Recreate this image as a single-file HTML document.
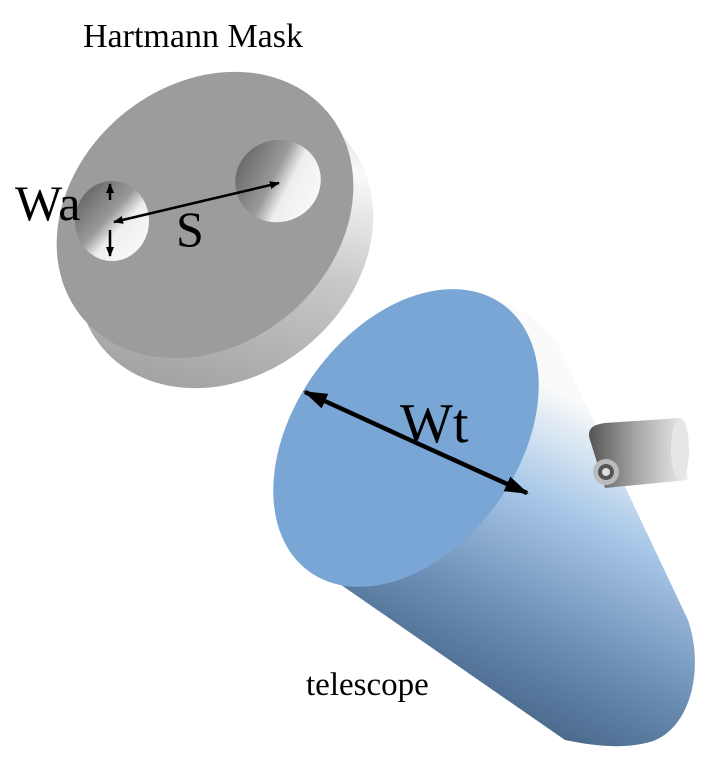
<!DOCTYPE html>
<html><head><meta charset="utf-8"><style>
html,body{margin:0;padding:0;background:#fff;}
svg{display:block;}
text{font-family:"Liberation Serif",serif;fill:#000;}
</style></head><body>
<svg width="704" height="766" viewBox="0 0 704 766">
<defs>
<linearGradient id="side" gradientUnits="userSpaceOnUse" x1="120" y1="380" x2="380" y2="200">
<stop offset="0" stop-color="#a0a0a0"/><stop offset="0.5" stop-color="#c8c8c8"/><stop offset="0.85" stop-color="#fafafa"/><stop offset="1" stop-color="#dcdcdc"/>
</linearGradient>
<linearGradient id="hole" x1="0" y1="0" x2="1" y2="1">
<stop offset="0" stop-color="#555"/><stop offset="0.45" stop-color="#999"/><stop offset="0.6" stop-color="#eee"/><stop offset="1" stop-color="#fff"/>
</linearGradient>
<linearGradient id="body" gradientUnits="userSpaceOnUse" x1="620" y1="420" x2="470" y2="730">
<stop offset="0" stop-color="#fafafa"/><stop offset="0.3" stop-color="#a8c8e8"/><stop offset="0.65" stop-color="#6d8fb5"/><stop offset="1" stop-color="#3e5d80"/>
</linearGradient>
<linearGradient id="eye" x1="0" y1="0" x2="1" y2="0">
<stop offset="0" stop-color="#555"/><stop offset="0.5" stop-color="#aaa"/><stop offset="1" stop-color="#eee"/>
</linearGradient>
<marker id="ah" markerWidth="10" markerHeight="8" refX="9" refY="4" orient="auto" markerUnits="userSpaceOnUse">
<path d="M0,0 L10,4 L0,8 Z" fill="#000"/></marker>
<marker id="ah2" markerWidth="24" markerHeight="16" refX="22" refY="8" orient="auto" markerUnits="userSpaceOnUse">
<path d="M0,0 L24,8 L0,16 Z" fill="#000"/></marker>
</defs>

<text x="83" y="47" font-size="34">Hartmann Mask</text>

<ellipse cx="225" cy="245" rx="160" ry="130" transform="rotate(-40 225 245)" fill="url(#side)"/>
<ellipse cx="205" cy="215" rx="160" ry="130" transform="rotate(-40 205 215)" fill="#9c9c9c"/>
<ellipse cx="112" cy="221" rx="37" ry="40" fill="url(#hole)"/>
<ellipse cx="278" cy="181" rx="43" ry="41" transform="rotate(-20 278 181)" fill="url(#hole)"/>

<text x="15" y="220" font-size="50">Wa</text>
<line x1="110" y1="200" x2="110" y2="184" stroke="#000" stroke-width="2.5" marker-end="url(#ah)"/>
<line x1="110" y1="230" x2="110" y2="256" stroke="#000" stroke-width="2.5" marker-end="url(#ah)"/>
<line x1="190" y1="204" x2="114" y2="222" stroke="#000" stroke-width="2.5" marker-end="url(#ah)"/>
<line x1="190" y1="204" x2="279" y2="183" stroke="#000" stroke-width="2.5" marker-end="url(#ah)"/>
<text x="176" y="246" font-size="50">S</text>

<path d="M308,562 L460,295 C505,295 540,318 558,345 L688,620 C705,670 690,730 650,742 C620,750 590,745 565,740 L308,562 Z" fill="url(#body)"/>
<ellipse cx="406" cy="438" rx="165" ry="112" transform="rotate(-54 406 438)" fill="#7aa6d6"/>

<path d="M590,440 C585,425 600,424 605,423 L680,418 L688,480 L605,488 Z" fill="url(#eye)"/>
<ellipse cx="680" cy="449" rx="9" ry="31" fill="#e6e6e6"/>
<circle cx="606" cy="472" r="13" fill="#bbb"/>
<circle cx="606" cy="472" r="8" fill="#555"/>
<circle cx="606" cy="472" r="4" fill="#ddd"/>

<line x1="410" y1="440" x2="305" y2="392" stroke="#000" stroke-width="4.5" marker-end="url(#ah2)"/>
<line x1="410" y1="440" x2="527" y2="493" stroke="#000" stroke-width="4.5" marker-end="url(#ah2)"/>
<text x="400" y="442" font-size="56">Wt</text>

<text x="306" y="695" font-size="33">telescope</text>
</svg>
</body></html>
